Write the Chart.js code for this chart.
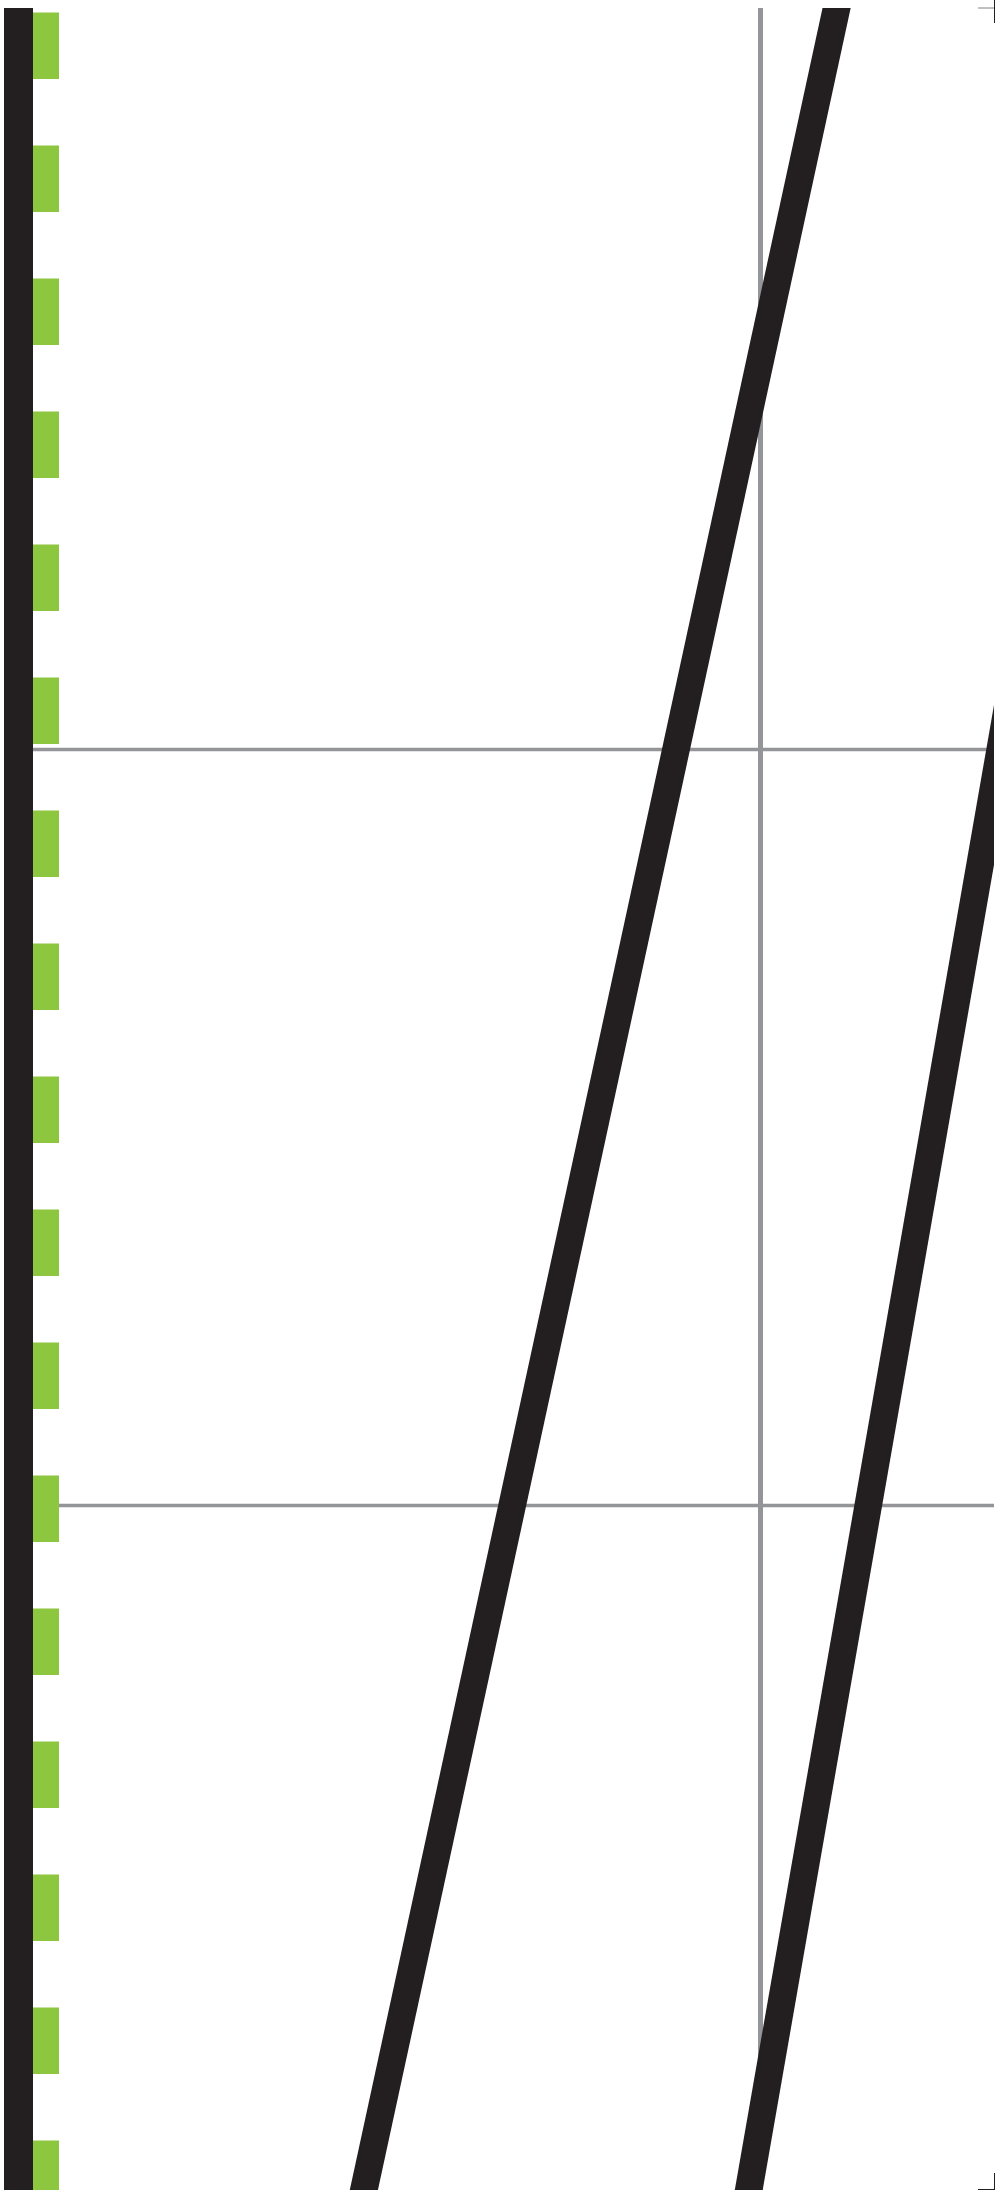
<!DOCTYPE html>
<html>
<head>
<meta charset="utf-8">
<script src="https://cdn.jsdelivr.net/npm/chart.js@4/dist/chart.umd.min.js"></script>
<style>
    html, body { margin: 0; padding: 0; background: #fff; }
    canvas { display: block; }
</style>
</head>
<body>
<canvas id="sheet" width="996" height="2190"></canvas>
<script>
// Frame (axis limits, in sheet units)
const frameLeft = 4;
const frameRight = 994;
const frameTop = 8;
const frameBottom = 2190;

// Left rails
const solidRailX = 18.5;
const dashRailX = 46;
const dashRailStart = 12.5;

// Gray guides
const guideX = 760.5;
const guideYs = [749.5, 1505.5];
const guideStartXs = [33, 59];

// Two slanted strokes, ends run past the frame so the frame cuts them flat
const slashTopXs = [847, 1131];
const slashTopYs = [-40, 0];
const slashBottomXs = [353, 740];
const slashBottomYs = [2240, 2240];

// Registration marks on the right edge
const markX = 994.5;
const markTopYs = [0, 23];
const markBottomYs = [2173, 2190];
const markArmXs = [978, 994.5];
const markArmYs = [8, 2189.5];

const BLACK = '#231f20';
const GREEN = '#8dc63f';
const GRAY = '#939598';

function seg(x1, y1, x2, y2) {
    return [{ x: x1, y: y1 }, { x: x2, y: y2 }];
}

function lineSet(data, color, width, extra = {}) {
    return Object.assign({
        data: data,
        showLine: true,
        borderColor: color,
        borderWidth: width,
        borderCapStyle: 'butt',
        pointRadius: 0,
        pointHoverRadius: 0,
        tension: 0,
        fill: false
    }, extra);
}

const datasets = [];

// Slanted strokes on top of everything else
slashTopXs.forEach((x, i) => {
    datasets.push(lineSet(seg(x, slashTopYs[i], slashBottomXs[i], slashBottomYs[i]), BLACK, 27.5));
});

// Left rails
datasets.push(lineSet(seg(solidRailX, frameTop, solidRailX, frameBottom), BLACK, 29));
datasets.push(lineSet(seg(dashRailX, dashRailStart, dashRailX, frameBottom), GREEN, 26,
    { borderDash: [66.5, 66.5], clip: false }));

// Gray guides
datasets.push(lineSet(seg(guideX, frameTop, guideX, frameBottom), GRAY, 5));
guideYs.forEach((y, i) => {
    datasets.push(lineSet(seg(guideStartXs[i], y, frameRight, y), GRAY, 3.5));
});

// Registration marks
datasets.push(lineSet(seg(markX, markTopYs[0], markX, markTopYs[1]), BLACK, 1, { clip: false }));
datasets.push(lineSet(seg(markX, markBottomYs[0], markX, markBottomYs[1]), BLACK, 1, { clip: false }));
datasets.push(lineSet(seg(markArmXs[0], markArmYs[0], markArmXs[1], markArmYs[0]), '#808285', 1, { clip: false }));
datasets.push(lineSet(seg(markArmXs[0], markArmYs[1], markArmXs[1], markArmYs[1]), BLACK, 1, { clip: false }));

new Chart(document.getElementById('sheet'), {
    type: 'scatter',
    data: { datasets: datasets },
    options: {
        responsive: false,
        animation: false,
        devicePixelRatio: 1,
        layout: {
            padding: { left: frameLeft, right: 996 - frameRight, top: frameTop, bottom: 0 }
        },
        plugins: {
            legend: { display: false },
            tooltip: { enabled: false }
        },
        events: [],
        scales: {
            x: { type: 'linear', display: false, min: frameLeft, max: frameRight },
            y: { type: 'linear', display: false, min: frameTop, max: frameBottom, reverse: true }
        }
    }
});
</script>
</body>
</html>
